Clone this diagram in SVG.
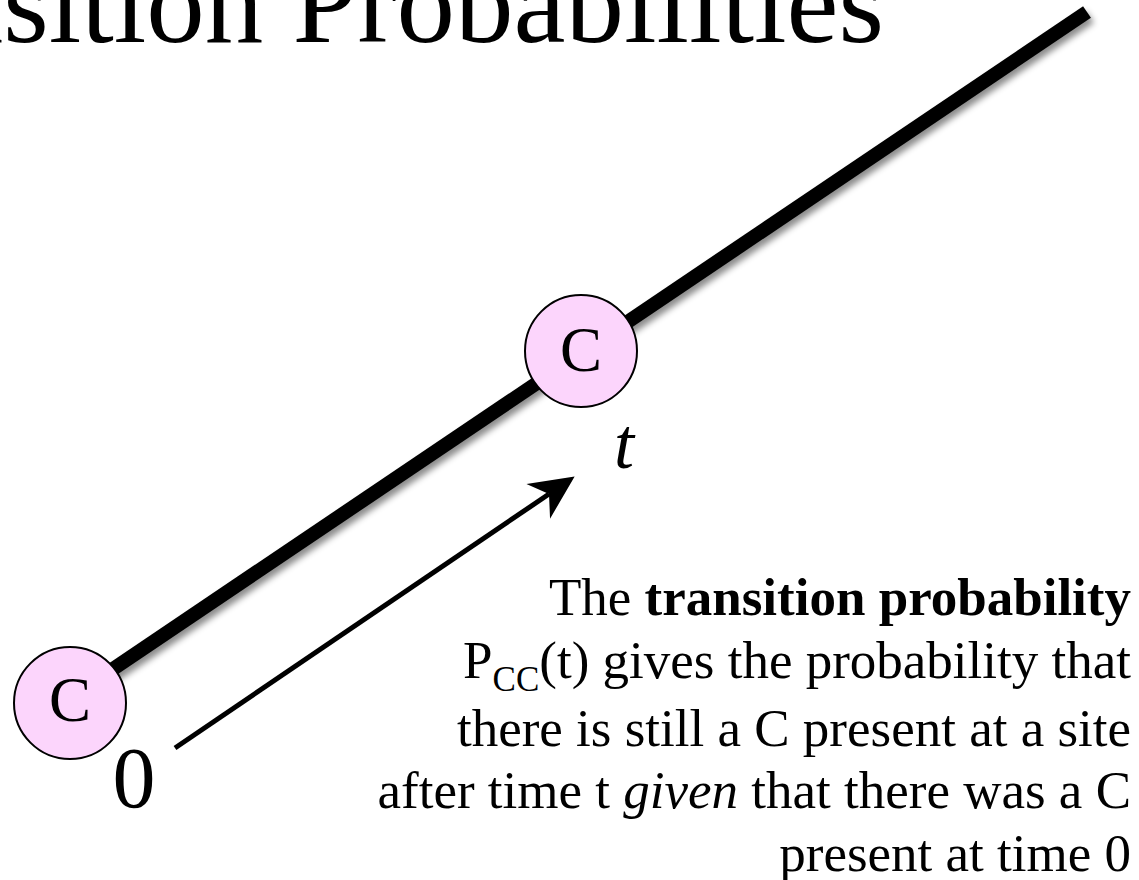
<svg xmlns="http://www.w3.org/2000/svg" width="1139" height="880" viewBox="0 0 1139 880">
  <defs>
    <filter id="shadow" x="-10%" y="-10%" width="120%" height="120%">
      <feDropShadow dx="3" dy="5" stdDeviation="3" flood-color="#000" flood-opacity="0.45"/>
    </filter>
    <marker id="arrowhead" viewBox="-14 -22 46 44" refX="0" refY="0" markerWidth="46" markerHeight="44" markerUnits="userSpaceOnUse" orient="auto">
      <path d="M31,0 L-13,-21 L0,0 L-13,21 Z" fill="#000"/>
    </marker>
  </defs>
  <style>
    .serif { font-family: "Liberation Serif", "Times New Roman", serif; fill: #000; }
    .node circle { fill: #FCD5FC; stroke: #000; stroke-width: 2; }
    .node text { font-size: 63px; text-anchor: middle; }
    .body { font-size: 53px; text-anchor: end; }
  </style>
  <rect width="1139" height="880" fill="#fff"/>

  <text id="title" class="serif" x="884" y="42" font-size="117" text-anchor="end">Transition Probabilities</text>

  <g id="connectors">
    <line id="branch" x1="70" y1="698" x2="1087" y2="12" stroke="#000" stroke-width="14" stroke-linecap="butt" filter="url(#shadow)"/>
    <line id="time-arrow" x1="175" y1="748" x2="549" y2="494" stroke="#000" stroke-width="5" marker-end="url(#arrowhead)"/>
  </g>

  <g id="node-c0" class="node">
    <circle cx="70" cy="703" r="56"/>
    <text class="serif" x="70" y="721">C</text>
  </g>
  <g id="node-ct" class="node">
    <circle cx="581" cy="351" r="56"/>
    <text class="serif" x="581" y="371">C</text>
  </g>

  <text id="label-t" class="serif" x="624" y="468" font-size="72" font-style="italic" text-anchor="middle">t</text>
  <text id="label-0" class="serif" x="134" y="807" font-size="86" text-anchor="middle">0</text>

  <g id="caption">
    <text class="serif body" x="1131" y="615">The <tspan font-weight="bold">transition probability</tspan></text>
    <text class="serif body" x="1131" y="678">P<tspan font-size="35" dy="13">CC</tspan><tspan dy="-13">(t) gives the probability that</tspan></text>
    <text class="serif body" x="1131" y="746">there is still a C present at a site</text>
    <text class="serif body" x="1131" y="808">after time t <tspan font-style="italic">given</tspan> that there was a C</text>
    <text class="serif body" x="1131" y="871">present at time 0</text>
  </g>
</svg>
